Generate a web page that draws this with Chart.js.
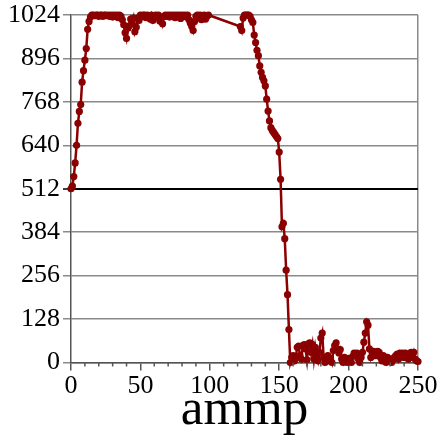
<!DOCTYPE html>
<html>
<head>
<meta charset="utf-8">
<script src="https://cdn.jsdelivr.net/npm/chart.js@4/dist/chart.umd.min.js"></script>
<style>
  html, body { margin: 0; padding: 0; background: #fff; }
  #wrap { width: 440px; height: 441px; }
</style>
</head>
<body>
<div id="wrap"><canvas id="c"></canvas></div>
<script>
// x positions (sample index) and values for the "ammp" series
const xs = [
  0,1,2,3,4,5,6,7,8,9,10,11,12,13,14,
  15,16,17,18,19,20,21,22,23,24,25,26,27,28,29,30,31,32,33,34,35,36,37,38,39,40,41,42,43,44,45,46,47,48,49,
  50,51,52,53,54,55,56,57,58,59,60,61,62,63,64,65,66,67,68,69,70,71,72,73,74,75,76,77,78,79,
  80,81,82,83,84,85,86,87,88,89,90,91,92,93,94,95,96,97,98,99,
  122,123,124,125,126,127,128,129,130,131,132,133,134,135,136,137,138,139,140,141,142,143,144,145,146,147,148,149,
  150,151,152,153,154,155,156,157,158,159,160,161,162,163,164,165,166,167,168,169,170,171,172,173,174,175,176,177,178,179,
  180,181,182,183,184,185,186,187,188,189,190,191,192,193,194,195,196,197,198,199,200,201,202,203,204,205,206,207,208,209,
  210,211,212,213,214,215,216,217,218,219,220,221,222,223,224,225,226,227,228,229,230,231,232,233,234,235,236,237,238,239,
  240,241,242,243,244,245,246,247,248,249,250
];
const ys = [
  512,520,548,588,640,705,740,760,826,860,891,925,982,1005,1018,
  1024,1024,1022,1024,1024,1020,1024,1024,1020,1024,1024,1022,1024,1020,1024,1018,1024,1020,1024,1016,1024,1020,1010,995,972,955,985,992,1012,1000,1015,975,988,1015,1008,
  1024,1020,1024,1024,1016,1024,1020,1012,1024,1008,1020,1024,1018,1024,1006,1015,998,1020,1024,1020,1024,1018,1024,1022,1024,1016,1024,1020,1024,1014,
  1024,1020,1024,1018,1024,1010,1000,990,978,1005,1020,1024,1016,1024,1010,1018,1024,1012,1020,1024,
  990,978,1015,1024,1024,1024,1024,1020,1010,1002,965,943,920,904,874,855,840,830,815,776,741,712,692,684,678,672,666,660,
  620,540,400,410,365,272,200,97,0,15,20,5,18,45,48,20,10,50,53,40,8,55,58,30,53,10,45,20,5,30,
  72,87,15,0,10,20,5,12,0,35,50,58,40,28,38,10,0,15,5,0,12,3,0,18,28,25,28,10,0,15,
  30,60,87,120,110,40,15,30,33,20,28,33,30,15,5,20,10,0,15,5,10,0,8,15,20,25,10,28,20,28,
  15,28,22,10,25,30,15,30,10,5,3
];
const yTicks = [0,128,256,384,512,640,768,896,1024];
const xMajorTicks = [0,50,100,150,200,250];
const xMinorTicks = [10,20,30,40,60,70,80,90,110,120,130,140,160,170,180,190,210,220,230,240];
const title = 'ammp';

const points = xs.map((x, i) => ({ x: x, y: ys[i] }));
const red = '#8b0000';
const gridGray = '#8a8a8a';
const axisGray = '#555555';
const serif = "'Liberation Serif', 'DejaVu Serif', serif";

const minorTicksPlugin = {
  id: 'minorTicks',
  afterDraw(chart) {
    const sx = chart.scales.x;
    const ctx = chart.ctx;
    const y0 = chart.chartArea.bottom;
    ctx.save();
    ctx.strokeStyle = axisGray;
    ctx.lineWidth = 1.5;
    xMinorTicks.forEach(v => {
      const px = sx.getPixelForValue(v);
      ctx.beginPath();
      ctx.moveTo(px, y0);
      ctx.lineTo(px, y0 + 4);
      ctx.stroke();
    });
    ctx.restore();
  }
};

new Chart(document.getElementById('c'), {
  type: 'line',
  data: {
    datasets: [{
      data: points,
      borderColor: red,
      backgroundColor: red,
      pointBackgroundColor: red,
      pointBorderColor: red,
      borderWidth: 2.5,
      pointRadius: 3.6,
      pointBorderWidth: 0,
      tension: 0,
      clip: false
    }]
  },
  options: {
    responsive: true,
    maintainAspectRatio: false,
    animation: false,
    events: [],
    layout: { padding: { top: 15, right: 22, bottom: 0, left: 0 } },
    plugins: { legend: { display: false }, tooltip: { enabled: false } },
    scales: {
      x: {
        type: 'linear',
        min: 0,
        max: 250,
        afterBuildTicks(scale) { scale.ticks = xMajorTicks.map(v => ({ value: v })); },
        afterFit(scale) { scale.height = 78.5; scale.paddingLeft = 0; scale.paddingRight = 0; },
        ticks: {
          color: '#000',
          font: { family: serif, size: 26 },
          padding: 0,
          maxRotation: 0,
          autoSkip: false,
          callback: v => String(v)
        },
        grid: {
          drawOnChartArea: true,
          color: ctx => (ctx.tick && ctx.tick.value === 250) ? gridGray : 'rgba(0,0,0,0)',
          lineWidth: 1.5,
          tickColor: axisGray,
          tickLength: 8,
          tickWidth: 1.5
        },
        border: { display: true, color: axisGray, width: 1.5 },
        title: {
          display: true,
          text: title,
          color: '#000',
          font: { family: serif, size: 51, lineHeight: 1.2 },
          padding: { top: 0, bottom: 0 }
        }
      },
      y: {
        type: 'linear',
        min: 0,
        max: 1024,
        afterBuildTicks(scale) { scale.ticks = yTicks.map(v => ({ value: v })); },
        afterFit(scale) { scale.width = 71; scale.paddingTop = 0; scale.paddingBottom = 0; },
        ticks: {
          color: '#000',
          font: { family: serif, size: 26 },
          padding: 3,
          callback: v => String(v)
        },
        grid: {
          color: ctx => (ctx.tick && ctx.tick.value === 512) ? '#000' : gridGray,
          lineWidth: ctx => (ctx.tick && ctx.tick.value === 512) ? 2 : 1.5,
          tickColor: ctx => (ctx.tick && ctx.tick.value === 512) ? '#000' : gridGray,
          tickLength: 8,
          tickWidth: 1.5
        },
        border: { display: true, color: axisGray, width: 1.5 }
      }
    }
  },
  plugins: [minorTicksPlugin]
});
</script>
</body>
</html>
